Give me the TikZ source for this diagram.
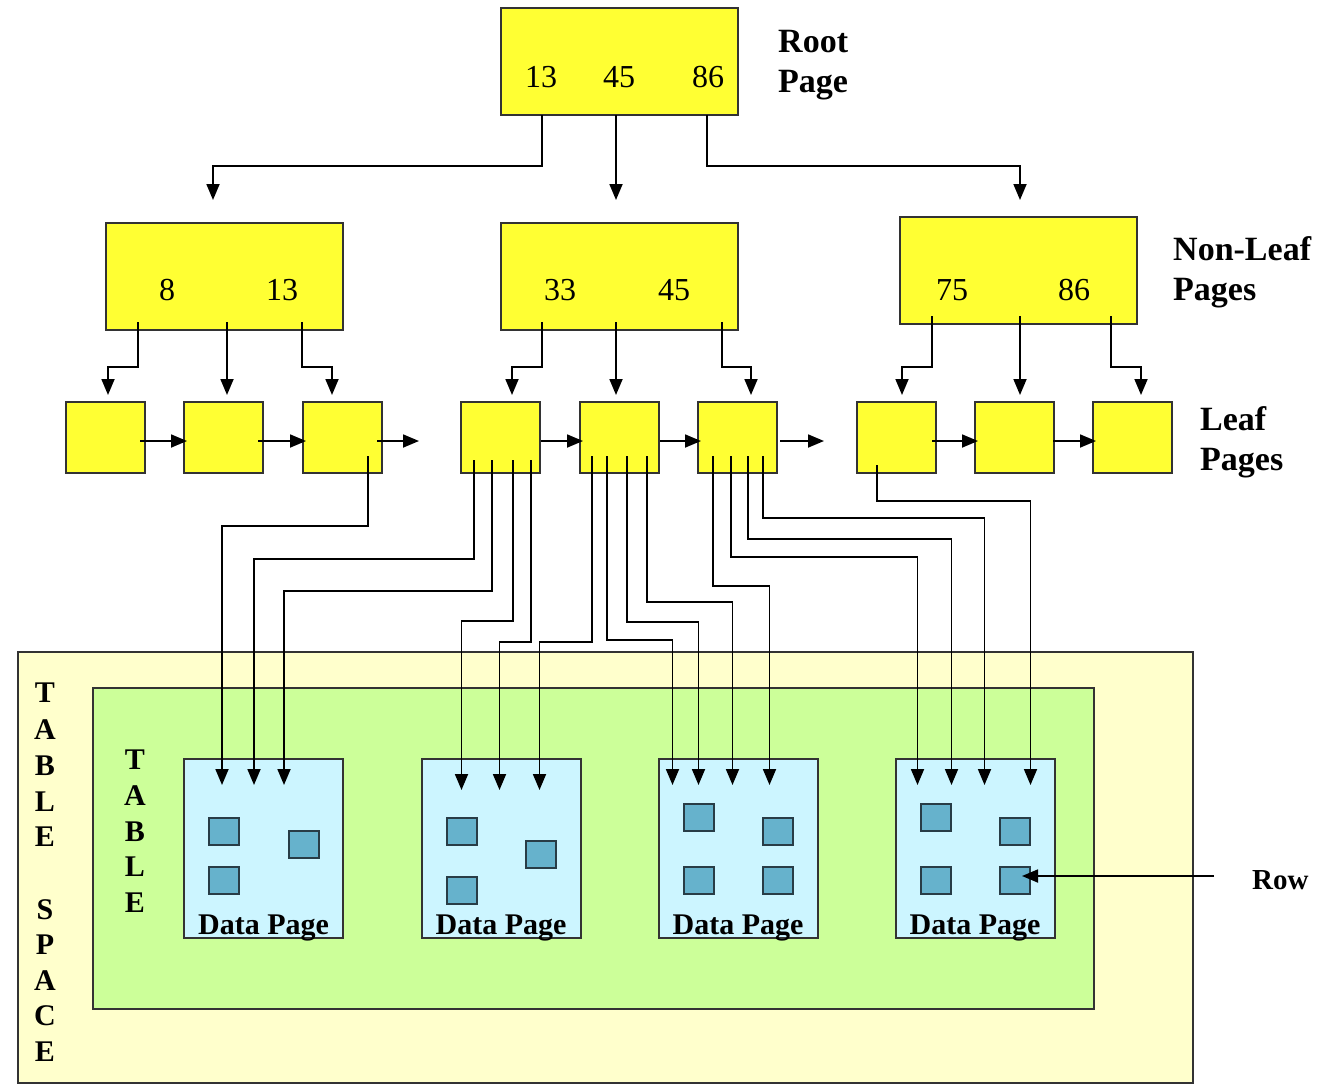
\documentclass[tikz,border=0pt]{standalone}
\usepackage{fontspec}
\setmainfont{Liberation Serif}
\usetikzlibrary{arrows.meta,calc}
\definecolor{pageyellow}{RGB}{255,255,51}
\definecolor{bordc}{RGB}{51,51,51}
\definecolor{tsyellow}{RGB}{255,255,204}
\definecolor{tgreen}{RGB}{204,255,153}
\definecolor{dpcyan}{RGB}{204,245,255}
\definecolor{sqblue}{RGB}{102,178,204}
\definecolor{sqborder}{RGB}{40,60,70}
\begin{document}
\begin{tikzpicture}[x=1pt,y=-1pt,
  page/.style={draw=bordc, line width=2pt, fill=pageyellow, inner sep=0pt, outer sep=0pt},
  bigpage/.style={page, minimum width=237pt, minimum height=107pt},
  leafpage/.style={page, minimum width=79pt, minimum height=71pt},
  dpage/.style={draw=bordc, line width=2pt, fill=dpcyan, inner sep=0pt, outer sep=0pt, minimum width=159pt, minimum height=179pt},
  rowsq/.style={draw=sqborder, line width=2pt, fill=sqblue, inner sep=0pt, outer sep=0pt, minimum width=30pt, minimum height=27pt},
  area/.style={draw=bordc, line width=1.8pt},
  arr/.style={line width=1.8pt, draw=black, -{Triangle[length=16pt,width=13pt]}},
  num/.style={font=\fontsize{32}{38}\selectfont, anchor=base, inner sep=0pt},
  lbl/.style={font=\fontsize{34}{40}\selectfont\bfseries, anchor=base west, inner sep=0pt},
  vlet/.style={font=\fontsize{30}{36}\selectfont\bfseries, anchor=center, inner sep=0pt},
  dplbl/.style={font=\fontsize{30}{36}\selectfont\bfseries, anchor=base, inner sep=0pt},
]
\useasboundingbox (0,0) rectangle (1325,1084);
\fill[white] (0,0) rectangle (1325,1084);

% table space and table
\draw[area, fill=tsyellow] (18,652) rectangle (1193,1083);
\draw[area, fill=tgreen] (93,688) rectangle (1094,1009);
\foreach \l/\y [count=\i] in {T/693,A/730,B/766,L/802,E/837,S/910,P/945,A/981,C/1016,E/1052}
  \node[vlet] (ts\i) at (45,\y) {\l};
\foreach \l/\y [count=\i] in {T/760,A/796,B/832,L/867,E/903}
  \node[vlet] (tb\i) at (135,\y) {\l};

% data pages
\node[dpage] (dp1) at (263.5,848.5) {};
\node[dpage] (dp2) at (501,848.5) {};
\node[dpage] (dp3) at (738,848.5) {};
\node[dpage] (dp4) at (975,848.5) {};
\foreach \i in {1,2,3,4}
  \node[dplbl] (dpl\i) at ($(dp\i.south)+(0,-4)$) {Data Page};

% rows
\node[rowsq] (r11) at (224,831.5) {};
\node[rowsq] (r12) at (224,880.5) {};
\node[rowsq] (r13) at (303.5,844.5) {};
\node[rowsq] (r21) at (461.5,831.5) {};
\node[rowsq] (r22) at (461.5,890) {};
\node[rowsq] (r23) at (540.5,854) {};
\node[rowsq] (r31) at (698.5,817.5) {};
\node[rowsq] (r32) at (777.5,831.5) {};
\node[rowsq] (r33) at (698.5,880.5) {};
\node[rowsq] (r34) at (777.5,880.5) {};
\node[rowsq] (r41) at (936,817.5) {};
\node[rowsq] (r42) at (1015,831.5) {};
\node[rowsq] (r43) at (936,880.5) {};
\node[rowsq] (r44) at (1015,880.5) {};

% root and non-leaf pages
\node[bigpage] (root) at (619.5,61.5) {};
\node[bigpage] (nl1) at (224.5,276.5) {};
\node[bigpage] (nl2) at (619.5,276.5) {};
\node[bigpage] (nl3) at (1018.5,270.5) {};

\node[num] (k1) at (541,87) {13};
\node[num] (k2) at (619,87) {45};
\node[num] (k3) at (708,87) {86};
\node[num] (k4) at (167,300) {8};
\node[num] (k5) at (282,300) {13};
\node[num] (k6) at (560,300) {33};
\node[num] (k7) at (674,300) {45};
\node[num] (k8) at (952,300) {75};
\node[num] (k9) at (1074,300) {86};

% leaf pages
\foreach \x [count=\i] in {105.5,223.5,342.5,500.5,619.5,737.5,896.5,1014.5,1132.5}
  \node[leafpage] (leaf\i) at (\x,437.5) {};

% labels
\node[lbl] (l1) at (778,52) {Root};
\node[lbl] (l2) at (778,92) {Page};
\node[lbl] (l3) at (1173,260) {Non-Leaf};
\node[lbl] (l4) at (1173,300) {Pages};
\node[lbl] (l5) at (1200,430) {Leaf};
\node[lbl] (l6) at (1200,470) {Pages};
\node[font=\fontsize{29}{34}\selectfont\bfseries, anchor=base west, inner sep=0pt] (rowlbl) at (1252,889) {Row};

% root -> non-leaf
\draw[arr] ($(root.south west)+(41,0)$) |- ($(nl1.north west)+(107,-57)$) -- ($(nl1.north west)+(107,-23)$);
\draw[arr] ($(root.south west)+(115,0)$) -- ($(nl2.north west)+(115,-23)$);
\draw[arr] ($(root.south west)+(206,0)$) |- ($(nl3.north west)+(120,-51)$) -- ($(nl3.north west)+(120,-17)$);

% non-leaf -> leaf
\draw[arr] ($(nl1.south west)+(32,-8)$) |- ($(leaf1.north west)+(42,-35)$) -- ($(leaf1.north west)+(42,-7)$);
\draw[arr] ($(nl1.south west)+(121,-8)$) -- ($(leaf2.north west)+(43,-7)$);
\draw[arr] ($(nl1.south west)+(196,-8)$) |- ($(leaf3.north west)+(29,-35)$) -- ($(leaf3.north west)+(29,-7)$);
\draw[arr] ($(nl2.south west)+(41,-8)$) |- ($(leaf4.north west)+(51,-35)$) -- ($(leaf4.north west)+(51,-7)$);
\draw[arr] ($(nl2.south west)+(115,-8)$) -- ($(leaf5.north west)+(36,-7)$);
\draw[arr] ($(nl2.south west)+(221,-8)$) |- ($(leaf6.north west)+(53,-35)$) -- ($(leaf6.north west)+(53,-7)$);
\draw[arr] ($(nl3.south west)+(32,-8)$) |- ($(leaf7.north west)+(45,-35)$) -- ($(leaf7.north west)+(45,-7)$);
\draw[arr] ($(nl3.south west)+(120,-8)$) -- ($(leaf8.north west)+(45,-7)$);
\draw[arr] ($(nl3.south west)+(211,-8)$) |- ($(leaf9.north west)+(48,-35)$) -- ($(leaf9.north west)+(48,-7)$);

% leaf chain
\coordinate (free1) at (419,441);
\coordinate (free2) at (824,441);
\draw[arr] ($(leaf1.east)+(-5,3.5)$) -- ($(leaf2.west)+(3,3.5)$);
\draw[arr] ($(leaf2.east)+(-5,3.5)$) -- ($(leaf3.west)+(3,3.5)$);
\draw[arr] ($(leaf3.east)+(-5,3.5)$) -- (free1);
\draw[arr] ($(leaf4.east)+(1,3.5)$) -- ($(leaf5.west)+(3,3.5)$);
\draw[arr] ($(leaf5.east)+(1,3.5)$) -- ($(leaf6.west)+(3,3.5)$);
\draw[arr] ($(leaf6.east)+(3,3.5)$) -- (free2);
\draw[arr] ($(leaf7.east)+(-4,3.5)$) -- ($(leaf8.west)+(3,3.5)$);
\draw[arr] ($(leaf8.east)+(-1,3.5)$) -- ($(leaf9.west)+(3,3.5)$);

% leaf -> data page: start points
\coordinate (s1)  at ($(leaf3.south west)+(65,-17)$);
\coordinate (s2)  at ($(leaf4.south west)+(13,-13)$);
\coordinate (s3)  at ($(leaf4.south west)+(31,-13)$);
\coordinate (s4)  at ($(leaf4.south west)+(52,-13)$);
\coordinate (s5)  at ($(leaf4.south west)+(70,-13)$);
\coordinate (s6)  at ($(leaf5.south west)+(12,-17)$);
\coordinate (s7)  at ($(leaf5.south west)+(27,-17)$);
\coordinate (s8)  at ($(leaf5.south west)+(47,-17)$);
\coordinate (s9)  at ($(leaf5.south west)+(67,-17)$);
\coordinate (s10) at ($(leaf6.south west)+(15,-17)$);
\coordinate (s11) at ($(leaf6.south west)+(33,-17)$);
\coordinate (s12) at ($(leaf6.south west)+(50,-17)$);
\coordinate (s13) at ($(leaf6.south west)+(65,-17)$);
\coordinate (s14) at ($(leaf7.south west)+(20,-8)$);
% target points
\coordinate (t1)  at ($(dp1.north west)+(38,26)$);
\coordinate (t2)  at ($(dp1.north west)+(70,26)$);
\coordinate (t3)  at ($(dp1.north west)+(100,26)$);
\coordinate (t4)  at ($(dp2.north west)+(40,31)$);
\coordinate (t5)  at ($(dp2.north west)+(78,31)$);
\coordinate (t6)  at ($(dp2.north west)+(118,31)$);
\coordinate (t7)  at ($(dp3.north west)+(14,26)$);
\coordinate (t8)  at ($(dp3.north west)+(40,26)$);
\coordinate (t9)  at ($(dp3.north west)+(74,26)$);
\coordinate (t10) at ($(dp3.north west)+(111,26)$);
\coordinate (t11) at ($(dp4.north west)+(22,26)$);
\coordinate (t12) at ($(dp4.north west)+(56,26)$);
\coordinate (t13) at ($(dp4.north west)+(89,26)$);
\coordinate (t14) at ($(dp4.north west)+(135,26)$);
\foreach \i/\b in {1/526,2/559,3/591,4/621,5/642,6/642,7/640,8/622,9/602,10/586,11/557,12/539,13/518,14/501}
  \draw[arr] (s\i) |- (t\i |- 0,\b) -- (t\i);

% row pointer
\coordinate (rowstart) at (1214,876);
\draw[arr] (rowstart) -- ($(r44.center)+(7,-4.5)$);
\end{tikzpicture}
\end{document}
